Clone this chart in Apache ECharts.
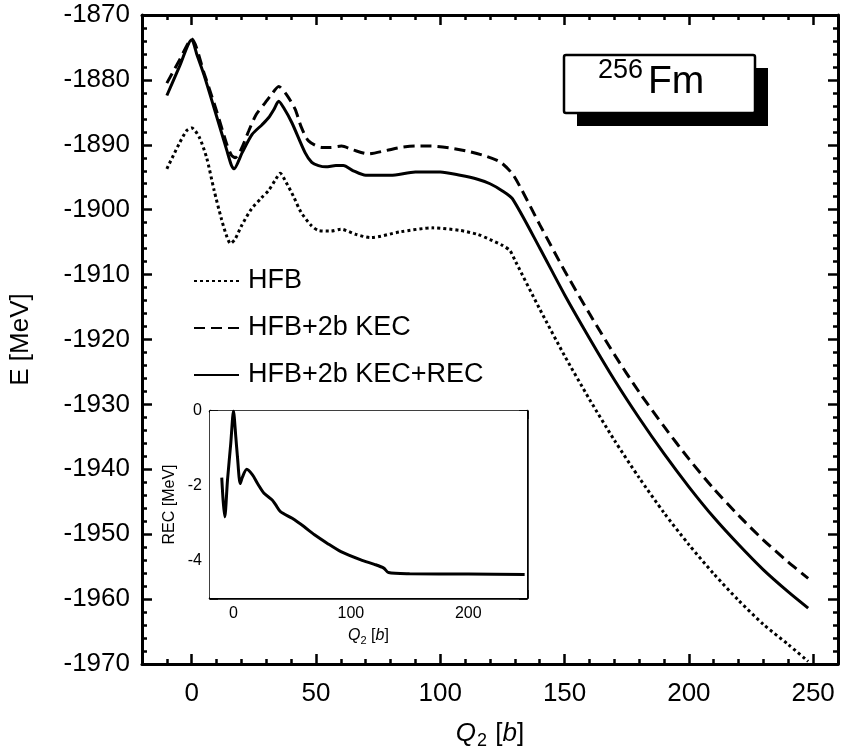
<!DOCTYPE html>
<html><head><meta charset="utf-8">
<script src="https://cdn.jsdelivr.net/npm/echarts@6/dist/echarts.min.js"></script>
<style>html,body{margin:0;padding:0;background:#fff}#c{width:844px;height:755px}</style>
</head><body><div id="c"></div>
<script>
// ---- data ----
const xMajorTicks = [0, 50, 100, 150, 200, 250];
const insetXTicks = [0, 50, 100, 150, 200, 250];
const insetXLabels = [0, 100, 200];
const insetYLabels = [0, -2, -4];

const hfbQ = [-10,-5,-2,0,3,6,9,12,14,15.6,17.5,20,24,28,31,33.5,35.6,38,41,44,48,51,56,60,66,72,84,97,108,115,120,125,128,130.3,140,150,160,170,180,190,200,210,220,230,240,248];
const hfbE = [-1893.7,-1889.8,-1887.8,-1887.4,-1888.8,-1892,-1897,-1901.5,-1904,-1905.2,-1904.5,-1902.5,-1899.9,-1898.2,-1897,-1895.5,-1894.4,-1895.8,-1898,-1900.4,-1902.4,-1903.2,-1903.3,-1903.0,-1903.8,-1904.3,-1903.4,-1902.8,-1903.2,-1903.8,-1904.6,-1905.5,-1906.3,-1908,-1915.3,-1922.5,-1929.2,-1935.5,-1941.3,-1946.7,-1951.6,-1956.1,-1960.2,-1963.9,-1967.0,-1969.6];

const kecQ = [-10,-5,0,5,10,14,16,17.5,20,23,26,29.6,32,35,38,41.6,44,47,52.3,56,60.3,65,71,78,84.3,90,96.3,104,111,118,124.3,129.6,140,150,160,170,180,190,200,210,220,230,240,248];
const kecE = [-1880.5,-1877.0,-1873.7,-1879.0,-1884.8,-1889.8,-1891.6,-1892.0,-1890.6,-1887.8,-1885.3,-1883.5,-1882.3,-1881,-1882.2,-1884.5,-1887.2,-1889.4,-1890.4,-1890.4,-1890.2,-1890.8,-1891.4,-1890.9,-1890.4,-1890.2,-1890.2,-1890.5,-1891,-1891.7,-1892.7,-1894.8,-1902.3,-1909.4,-1916.0,-1922.3,-1928.1,-1933.4,-1938.4,-1943.0,-1947.1,-1950.9,-1954.3,-1956.8];

const recTotQ = [-10,-5,0,2,5,10,14,16,17,20.3,24.3,28.3,31,33,35,37,40.3,45.6,48.3,51,54,58,61,65,70,80,90,100,108,115,120,125,129,140,150,160,170,180,190,200,210,220,230,240,248];
const recTotE = [-1882.4,-1878.0,-1873.8,-1876.0,-1879.3,-1885.6,-1890.7,-1893.2,-1893.7,-1891.2,-1888.4,-1886.9,-1885.8,-1884.6,-1883.3,-1884.3,-1886.6,-1891.2,-1892.7,-1893.2,-1893.4,-1893.2,-1893.2,-1894.0,-1894.7,-1894.7,-1894.2,-1894.2,-1894.7,-1895.3,-1896.0,-1897.1,-1898.3,-1905.9,-1913.1,-1919.8,-1926.2,-1932.1,-1937.6,-1942.7,-1947.4,-1951.6,-1955.5,-1958.9,-1961.4];

const recQ = [-10,-8.8,-7.4,-5.1,-2.3,0,2,3.4,5.7,7.7,11.3,16.2,20.5,26,33,36,40,50,60,69,80,91.5,108.5,120,128,132,150,200,248];
const recE = [-1.78,-2.4,-2.83,-1.85,-0.86,0,-0.7,-1.23,-1.94,-1.76,-1.56,-1.71,-1.94,-2.2,-2.38,-2.51,-2.69,-2.87,-3.09,-3.31,-3.54,-3.76,-3.98,-4.1,-4.2,-4.32,-4.35,-4.36,-4.37];

const seriesNames = ['HFB', 'HFB+2b KEC', 'HFB+2b KEC+REC'];

// ---- chart ----
const FF = '"Liberation Sans", Arial, Helvetica, sans-serif';
const zip = (a, b) => a.map((v, i) => [v, b[i]]);
const plain = v => String(v);
const chart = echarts.init(document.getElementById('c'), null, {renderer: 'canvas'});

const lineCommon = {width: 3, color: '#000'};
function xAx(grid, pos, opts) {
  return Object.assign({
    type: 'value', gridIndex: grid, position: pos, splitLine: {show: false},
    axisLine: {show: true, onZero: false, lineStyle: lineCommon},
    axisLabel: {show: false}
  }, opts);
}

const option = {
  animation: false,
  backgroundColor: '#fff',
  grid: [
    {left: 140, top: 15, width: 698, height: 653, containLabel: false},
    {left: 210, top: 411, width: 317, height: 187, show: true, backgroundColor: '#fff', borderWidth: 0, z: 5}
  ],
  legend: {
    data: seriesNames, orient: 'vertical', left: 188, top: 261,
    itemWidth: 45, itemHeight: 14, itemGap: 17,
    itemStyle: {opacity: 0},
    textStyle: {fontSize: 27, color: '#000', fontFamily: FF, lineHeight: 30, padding: [0, 0, 0, 4]}
  },
  xAxis: [
    xAx(0, 'bottom', {min: -20, max: 260, interval: 10,
      axisTick: {show: true, inside: true, length: 10, lineStyle: {width: 2.5, color: '#000'}, customValues: xMajorTicks},
      axisLabel: {show: true, customValues: xMajorTicks, formatter: plain, fontSize: 26, color: '#000', fontFamily: FF, margin: 17},
      name: '{i|Q}{s|2} [{i|b}]', nameLocation: 'middle', nameGap: 54,
      nameTextStyle: {fontSize: 26, color: '#000', fontFamily: FF, lineHeight: 32,
        rich: {i: {fontStyle: 'italic', fontSize: 26, fontFamily: FF, color: '#000', lineHeight: 32},
               s: {fontSize: 18, fontFamily: FF, color: '#000', verticalAlign: 'bottom', lineHeight: 18, padding: [0, 1, 0, 1]}}}
    }),
    xAx(0, 'top', {min: -20, max: 260, interval: 10,
      axisTick: {show: true, inside: true, length: 10, lineStyle: {width: 2.5, color: '#000'}, customValues: xMajorTicks}}),
    xAx(0, 'bottom', {min: -20, max: 260, interval: 10, axisLine: {show: false, onZero: false},
      axisTick: {show: true, inside: true, length: 5, lineStyle: {width: 2.5, color: '#000'}}}),
    xAx(0, 'top', {min: -20, max: 260, interval: 10, axisLine: {show: false, onZero: false},
      axisTick: {show: true, inside: true, length: 5, lineStyle: {width: 2.5, color: '#000'}}}),
    xAx(1, 'bottom', {min: -20, max: 250, interval: 10,
      axisLine: {show: true, onZero: false, lineStyle: {width: 2.5, color: '#000'}},
      axisTick: {show: true, inside: true, length: 8, lineStyle: {width: 2.5, color: '#000'}, customValues: insetXTicks},
      axisLabel: {show: true, customValues: insetXLabels, formatter: plain, fontSize: 16, color: '#000', fontFamily: FF, margin: 8},
      name: '{i|Q}{s|2} [{i|b}]', nameLocation: 'middle', nameGap: 28,
      nameTextStyle: {fontSize: 16, color: '#000', fontFamily: FF, lineHeight: 20,
        rich: {i: {fontStyle: 'italic', fontSize: 16, fontFamily: FF, color: '#000', lineHeight: 20},
               s: {fontSize: 11, fontFamily: FF, color: '#000', verticalAlign: 'bottom', lineHeight: 11}}}
    }),
    xAx(1, 'top', {min: -20, max: 250, interval: 10,
      axisLine: {show: true, onZero: false, lineStyle: {width: 2.5, color: '#000'}},
      axisTick: {show: true, inside: true, length: 8, lineStyle: {width: 2.5, color: '#000'}, customValues: insetXTicks}})
  ],
  yAxis: [
    {type: 'value', gridIndex: 0, position: 'left', min: -1970, max: -1870, interval: 10, splitLine: {show: false},
      axisLine: {show: true, onZero: false, lineStyle: lineCommon},
      axisTick: {show: true, inside: true, length: 10, lineStyle: {width: 2.5, color: '#000'}},
      minorTick: {show: true, splitNumber: 5, length: 5, lineStyle: {width: 2.5, color: '#000'}},
      axisLabel: {formatter: plain, fontSize: 26, color: '#000', fontFamily: FF, margin: 12},
      name: 'E [MeV]', nameLocation: 'middle', nameGap: 108, nameRotate: 90,
      nameTextStyle: {fontSize: 26, color: '#000', fontFamily: FF}},
    {type: 'value', gridIndex: 0, position: 'right', min: -1970, max: -1870, interval: 10, splitLine: {show: false},
      axisLine: {show: true, onZero: false, lineStyle: lineCommon},
      axisTick: {show: true, inside: true, length: 10, lineStyle: {width: 2.5, color: '#000'}},
      minorTick: {show: true, splitNumber: 5, length: 5, lineStyle: {width: 2.5, color: '#000'}},
      axisLabel: {show: false}},
    {type: 'value', gridIndex: 1, position: 'left', min: -5, max: 0, interval: 1, splitLine: {show: false},
      axisLine: {show: true, onZero: false, lineStyle: {width: 2.5, color: '#000'}},
      axisTick: {show: true, inside: true, length: 8, lineStyle: {width: 2.5, color: '#000'}},
      axisLabel: {customValues: insetYLabels, formatter: plain, fontSize: 16, color: '#000', fontFamily: FF, margin: 8},
      name: 'REC [MeV]', nameLocation: 'middle', nameGap: 32, nameRotate: 90,
      nameTextStyle: {fontSize: 16, color: '#000', fontFamily: FF}},
    {type: 'value', gridIndex: 1, position: 'right', min: -5, max: 0, interval: 1, splitLine: {show: false},
      axisLine: {show: true, onZero: false, lineStyle: {width: 2.5, color: '#000'}},
      axisTick: {show: true, inside: true, length: 8, lineStyle: {width: 2.5, color: '#000'}},
      axisLabel: {show: false}}
  ],
  series: [
    {name: seriesNames[0], type: 'line', xAxisIndex: 0, yAxisIndex: 0, data: zip(hfbQ, hfbE), showSymbol: false, symbol: 'none', smooth: 0.25,
      lineStyle: {width: 3, color: '#000', type: [3, 3], cap: 'butt'}, itemStyle: {color: '#000'}},
    {name: seriesNames[1], type: 'line', xAxisIndex: 0, yAxisIndex: 0, data: zip(kecQ, kecE), showSymbol: false, symbol: 'none', smooth: 0.25,
      lineStyle: {width: 3, color: '#000', type: [11, 6], cap: 'butt'}, itemStyle: {color: '#000'}},
    {name: seriesNames[2], type: 'line', xAxisIndex: 0, yAxisIndex: 0, data: zip(recTotQ, recTotE), showSymbol: false, symbol: 'none', smooth: 0.25,
      lineStyle: {width: 3, color: '#000', type: 'solid'}, itemStyle: {color: '#000'}},
    {name: 'REC', type: 'line', xAxisIndex: 4, yAxisIndex: 2, data: zip(recQ, recE), showSymbol: false, symbol: 'none', smooth: 0.25, z: 6,
      lineStyle: {width: 3, color: '#000'}, itemStyle: {color: '#000'}}
  ],
  graphic: [
    {type: 'rect', shape: {x: 577, y: 68, width: 191, height: 58}, style: {fill: '#000'}, z: 10},
    {type: 'rect', shape: {x: 564, y: 55, width: 191, height: 58, r: 2}, style: {fill: '#fff', stroke: '#000', lineWidth: 2.5}, z: 11},
    {type: 'text', x: 598, y: 57, style: {text: '256', font: '27px ' + FF, fill: '#000', textVerticalAlign: 'top'}, z: 12},
    {type: 'text', x: 648, y: 63, style: {text: 'Fm', font: '39px ' + FF, fill: '#000', textVerticalAlign: 'top'}, z: 12}
  ]
};
chart.setOption(option);
</script></body></html>
